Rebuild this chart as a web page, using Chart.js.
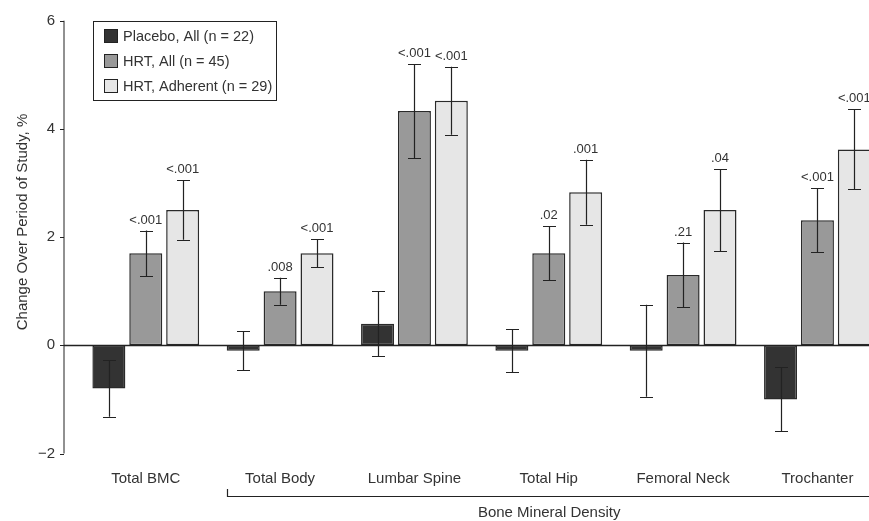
<!DOCTYPE html>
<html>
<head>
<meta charset="utf-8">
<script src="https://cdn.jsdelivr.net/npm/chart.js@4/dist/chart.umd.min.js"></script>
<style>
  html, body { margin: 0; padding: 0; background: #fff; overflow: hidden; }
  #wrap { width: 900px; height: 521px; }
</style>
</head>
<body>
<div id="wrap"><canvas id="grafico" width="900" height="521"></canvas></div>
<script>
// Categorias e valores
const categorias = ['Total BMC', 'Total Body', 'Lumbar Spine', 'Total Hip', 'Femoral Neck', 'Trochanter'];
const rotulosSeries = ['Placebo, All (n = 22)', 'HRT, All (n = 45)', 'HRT, Adherent (n = 29)'];

const placebo = [-0.8, -0.1, 0.4, -0.1, -0.1, -1.0];
const placeboErro = [0.52, 0.36, 0.6, 0.4, 0.85, 0.59];

const hrtTodos = [1.7, 1.0, 4.33, 1.7, 1.3, 2.31];
const hrtTodosErro = [0.42, 0.25, 0.87, 0.5, 0.6, 0.59];
const hrtTodosP = ['<.001', '.008', '<.001', '.02', '.21', '<.001'];

const hrtAderente = [2.5, 1.7, 4.52, 2.83, 2.5, 3.62];
const hrtAderenteErro = [0.55, 0.26, 0.63, 0.6, 0.76, 0.74];
const hrtAderenteP = ['<.001', '<.001', '<.001', '.001', '.04', '<.001'];

const ticksY = [-2, 0, 2, 4, 6];
const tituloY = 'Change Over Period of Study, %';
const tituloGrupo = 'Bone Mineral Density';

const erros = [placeboErro, hrtTodosErro, hrtAderenteErro];
const valoresP = [null, hrtTodosP, hrtAderenteP];
const cores = ['#333333', '#999999', '#e6e6e6'];

const fonte = '"Liberation Sans", Arial, sans-serif';
const corTexto = '#333';

// Eixo Y, linha do zero, barras de erro, p-valores, legenda e colchete
const desenhosExtras = {
  id: 'desenhosExtras',
  afterDatasetsDraw(chart) {
    const ctx = chart.ctx;
    const y = chart.scales.y;
    const area = chart.chartArea;
    const eixoX = area.left - 14.6;

    ctx.save();
    ctx.strokeStyle = '#222';
    ctx.lineWidth = 1;

    // linha vertical do eixo e marcas
    ctx.beginPath();
    ctx.moveTo(eixoX, y.getPixelForValue(ticksY[0]));
    ctx.lineTo(eixoX, y.getPixelForValue(ticksY[ticksY.length - 1]));
    ticksY.forEach(t => {
      const py = Math.round(y.getPixelForValue(t)) + 0.5;
      ctx.moveTo(eixoX - 4, py);
      ctx.lineTo(eixoX, py);
    });
    ctx.stroke();

    // linha do zero
    const y0 = Math.round(y.getPixelForValue(0)) + 0.5;
    ctx.lineWidth = 1.5;
    ctx.beginPath();
    ctx.moveTo(eixoX, y0);
    ctx.lineTo(chart.width, y0);
    ctx.stroke();

    // barras de erro e p-valores
    ctx.lineWidth = 1.2;
    ctx.font = '13px ' + fonte;
    ctx.fillStyle = corTexto;
    ctx.textAlign = 'center';
    ctx.textBaseline = 'alphabetic';
    chart.data.datasets.forEach((ds, i) => {
      const meta = chart.getDatasetMeta(i);
      meta.data.forEach((barra, j) => {
        const v = ds.data[j];
        const e = erros[i][j];
        const topo = y.getPixelForValue(v + e);
        const base = y.getPixelForValue(v - e);
        const x = Math.round(barra.x) + 0.5;
        ctx.beginPath();
        ctx.moveTo(x, topo);
        ctx.lineTo(x, base);
        ctx.moveTo(x - 6.5, Math.round(topo) + 0.5);
        ctx.lineTo(x + 6.5, Math.round(topo) + 0.5);
        ctx.moveTo(x - 6.5, Math.round(base) + 0.5);
        ctx.lineTo(x + 6.5, Math.round(base) + 0.5);
        ctx.stroke();
        if (valoresP[i]) {
          ctx.fillText(valoresP[i][j], barra.x, topo - 7);
        }
      });
    });

    // legenda com caixa
    const lx = 93.5, ly = 21.5, lw = 183, lh = 79;
    ctx.lineWidth = 1;
    ctx.strokeStyle = '#222';
    ctx.strokeRect(lx, ly, lw, lh);
    ctx.font = '14.5px ' + fonte;
    ctx.textAlign = 'left';
    ctx.textBaseline = 'middle';
    rotulosSeries.forEach((rotulo, i) => {
      const cy = 36 + i * 25;
      ctx.fillStyle = cores[i];
      ctx.fillRect(104.5, cy - 6.5, 13, 13);
      ctx.strokeRect(104.5, cy - 6.5, 13, 13);
      ctx.fillStyle = corTexto;
      ctx.fillText(rotulo, 123, cy + 1);
    });

    // colchete "Bone Mineral Density"
    const primeira = chart.getDatasetMeta(0).data[1];
    const ultimaMeta = chart.getDatasetMeta(2).data;
    const ultima = ultimaMeta[ultimaMeta.length - 1];
    const x1 = Math.round(primeira.x - primeira.width / 2) + 0.5;
    const x2 = ultima.x + ultima.width / 2;
    ctx.lineWidth = 1.2;
    ctx.beginPath();
    ctx.moveTo(x1, 489);
    ctx.lineTo(x1, 496.5);
    ctx.lineTo(x2, 496.5);
    ctx.stroke();
    ctx.font = '15px ' + fonte;
    ctx.textAlign = 'center';
    ctx.fillText(tituloGrupo, (x1 + x2) / 2, 513);

    // título do eixo Y
    ctx.translate(22.5, 222);
    ctx.rotate(-Math.PI / 2);
    ctx.fillText(tituloY, 0, 0);

    ctx.restore();
  }
};

const ctx = document.getElementById('grafico').getContext('2d');
const grafico = new Chart(ctx, {
  type: 'bar',
  data: {
    labels: categorias,
    datasets: [placebo, hrtTodos, hrtAderente].map((dados, i) => ({
      label: rotulosSeries[i],
      data: dados,
      backgroundColor: cores[i],
      borderColor: '#2a2a2a',
      borderWidth: 1.5,
      borderSkipped: false,
      categoryPercentage: 0.824,
      barPercentage: 0.894
    }))
  },
  options: {
    responsive: false,
    animation: false,
    layout: { padding: { top: 20.7, right: 15.4, left: 0, bottom: 0 } },
    plugins: {
      legend: { display: false },
      tooltip: { enabled: false }
    },
    scales: {
      x: {
        grid: { display: false, drawTicks: false },
        border: { display: false },
        ticks: {
          color: corTexto,
          font: { family: fonte, size: 15 },
          padding: 16,
          maxRotation: 0
        },
        afterFit(scale) { scale.height = 67.5; }
      },
      y: {
        min: -2,
        max: 6,
        grid: { display: false, drawTicks: false },
        border: { display: false },
        afterBuildTicks(scale) { scale.ticks = ticksY.map(v => ({ value: v })); },
        ticks: {
          color: corTexto,
          font: { family: fonte, size: 15 },
          padding: 23.6,
          callback: v => (v < 0 ? '\u2212' + Math.abs(v) : String(v))
        },
        afterFit(scale) {
          scale.width = 78.6;
          scale.paddingTop = 0;
          scale.paddingBottom = 0;
        }
      }
    }
  },
  plugins: [desenhosExtras]
});
</script>
</body>
</html>
